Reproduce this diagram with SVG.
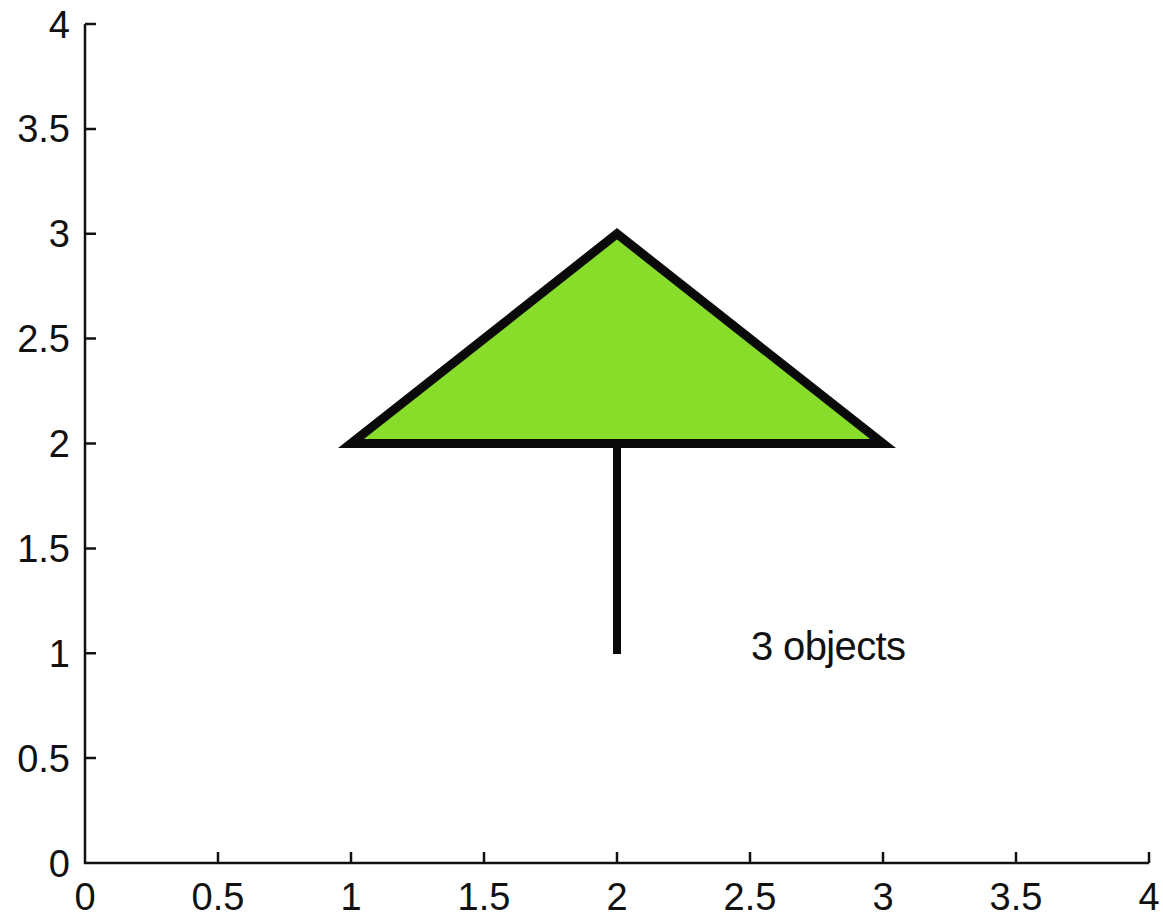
<svg xmlns="http://www.w3.org/2000/svg" width="1163" height="917" viewBox="0 0 1163 917">
<style>
.ax{stroke:#111;stroke-width:2.5;fill:none}
.lbl{font-family:"Liberation Sans",Arial,sans-serif;font-size:38px;fill:#111}
.xl{text-anchor:middle}
.yl{text-anchor:end}
</style>
<rect width="1163" height="917" fill="#fff"/>
<g id="axes">
<path class="ax" d="M85,24 V863 H1149"/>
<path class="ax" d="M85,24 H96 M85,128.9 H96 M85,233.8 H96 M85,338.6 H96 M85,443.5 H96 M85,548.4 H96 M85,653.3 H96 M85,758.1 H96"/>
<path class="ax" d="M218,863 V852 M351,863 V852 M484,863 V852 M617,863 V852 M750,863 V852 M883,863 V852 M1016,863 V852 M1149,863 V852"/>
<g class="lbl yl">
<text x="70" y="877">0</text>
<text x="70" y="772">0.5</text>
<text x="70" y="667">1</text>
<text x="70" y="562">1.5</text>
<text x="70" y="457">2</text>
<text x="70" y="352">2.5</text>
<text x="70" y="247">3</text>
<text x="70" y="142">3.5</text>
<text x="70" y="38">4</text>
</g>
<g class="lbl xl">
<text x="85" y="910">0</text>
<text x="218" y="910">0.5</text>
<text x="351" y="910">1</text>
<text x="484" y="910">1.5</text>
<text x="617" y="910">2</text>
<text x="750" y="910">2.5</text>
<text x="883" y="910">3</text>
<text x="1016" y="910">3.5</text>
<text x="1149" y="910">4</text>
</g>
</g>
<g id="triangle">
<polygon points="351,443.5 883,443.5 617,233.8" fill="#88dc2a" stroke="#0a0a0a" stroke-width="9" stroke-linejoin="miter" stroke-miterlimit="10"/>
</g>
<g id="stem">
<line x1="617" y1="443.5" x2="617" y2="654" stroke="#0a0a0a" stroke-width="8"/>
</g>
<g id="label">
<text class="lbl" x="751" y="660" style="font-size:40px" textLength="155">3 objects</text>
</g>
</svg>
